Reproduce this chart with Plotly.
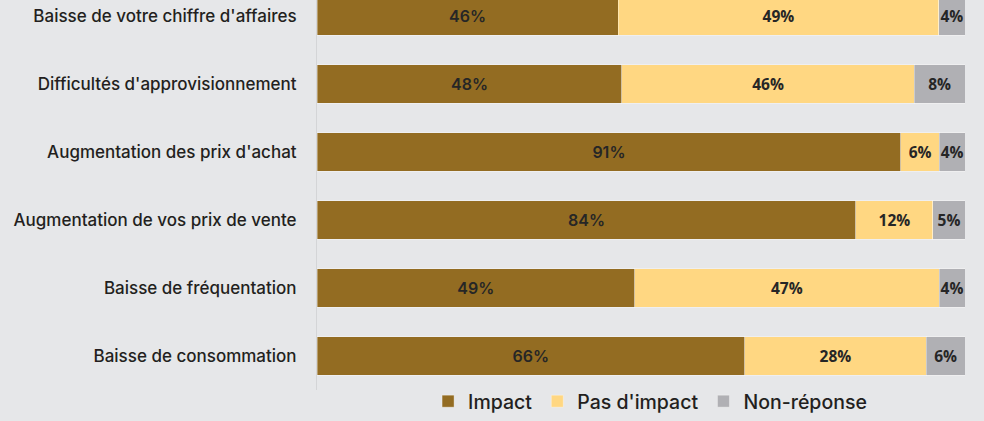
import plotly.graph_objects as go

categories = [
    "Baisse de votre chiffre d'affaires",
    "Difficultés d'approvisionnement",
    "Augmentation des prix d'achat",
    "Augmentation de vos prix de vente",
    "Baisse de fréquentation",
    "Baisse de consommation",
]
impact = [46, 48, 91, 84, 49, 66]
pas_impact = [49, 46, 6, 12, 47, 28]
non_reponse = [4, 8, 4, 5, 4, 6]

series = [
    ("Impact", impact, "#936C22", dict(family="Inter", size=16, weight=600)),
    ("Pas d'impact", pas_impact, "#FFD782", dict(family="Open Sans", size=15.5, weight="bold")),
    ("Non-réponse", non_reponse, "#B0B0B4", dict(family="Open Sans", size=15.5, weight="bold")),
]

fig = go.Figure()
for name, vals, color, tf in series:
    fig.add_trace(go.Bar(
        y=categories, x=vals, name=name, orientation="h",
        marker=dict(color=color, line=dict(color="rgba(255,255,255,0.35)", width=1)),
        text=[f"{v}%" for v in vals], textposition="inside",
        insidetextanchor="middle", textangle=0, constraintext="none",
        textfont=dict(color="#262626", **tf),
        hoverinfo="skip",
    ))

fig.update_layout(
    width=984, height=421,
    barmode="stack", barnorm="percent", bargap=0.44,
    paper_bgcolor="#E6E7E9", plot_bgcolor="#E6E7E9",
    margin=dict(l=317, r=19, t=0, b=31, autoexpand=False),
    showlegend=True,
    legend=dict(orientation="h", x=0.514, xanchor="center", y=-0.016, yref="container",
                yanchor="bottom",
                font=dict(family="Inter", size=19.5, color="#231F20", weight=500),
                itemwidth=30, traceorder="normal", bgcolor="rgba(0,0,0,0)"),
    font=dict(family="Inter", color="#231F20"),
)
fig.update_xaxes(range=[0, 100], visible=False, showgrid=False)
fig.update_yaxes(
    categoryorder="array", categoryarray=categories,
    range=[5.5, -0.235], autorange=False,
    showline=True, linecolor="#D4D5D7", linewidth=1,
    showgrid=False, ticks="", ticklabelstandoff=16,
    tickfont=dict(family="Inter", size=17, color="#231F20", weight=500),
)
fig.write_html("out.html")
